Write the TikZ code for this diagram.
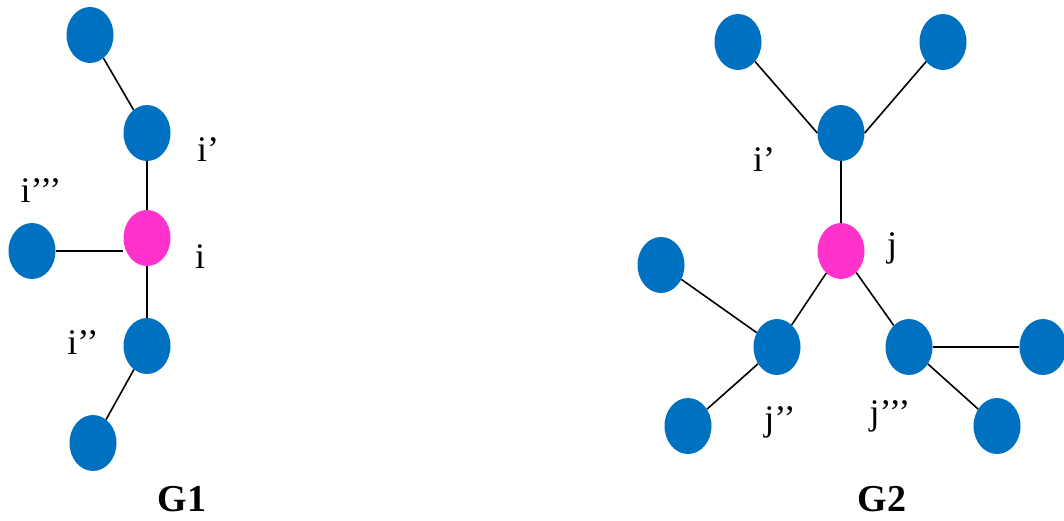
\documentclass[tikz,border=0pt]{standalone}
\usepackage{fontspec}
\setmainfont{Liberation Serif}
\usepackage{xcolor}
\usepackage{tikz}
\usetikzlibrary{positioning,shapes.geometric}

\definecolor{vblue}{HTML}{0070C0}
\definecolor{vpink}{HTML}{FF33CC}

\tikzset{
    vert/.style={ellipse, fill=vblue, minimum width=47pt, minimum height=56pt, inner sep=0pt},
    root/.style={vert, fill=vpink},
    lbl/.style={font=\fontsize{36}{40}\selectfont, inner sep=0pt},
    gname/.style={font=\fontsize{38}{42}\selectfont\bfseries, inner sep=0pt},
    edge/.style={line width=1.6pt}
}

\begin{document}
\begin{tikzpicture}[x=1pt, y=-1pt]
    \useasboundingbox (0,0) rectangle (1064,521);

    % graph G1
    \node[vert] (a1) at (90,35) {};
    \node[vert] (ip) at (147,133) {};
    \node[root] (i) at (147,238) {};
    \node[vert] (a3) at (32,251) {};
    \node[vert] (ipp) at (147,346) {};
    \node[vert] (a2) at (93,443) {};

    \draw[edge] (a1) -- (ip);
    \draw[edge] (ip) -- (i);
    \draw[edge] (a3) -- (a3 -| i.west);
    \draw[edge] (i) -- (ipp);
    \draw[edge] (ipp) -- (a2);

    \node[lbl] (l-ip) at (208,150) {i’};
    \node[lbl] (l-ippp) at (41,191) {i’’’};
    \node[lbl] (l-i) at (200,257) {i};
    \node[lbl] (l-ipp) at (83,343) {i’’};
    \node[gname] (g1) at (182,499) {G1};

    % graph G2
    \node[vert] (b1) at (738,42) {};
    \node[vert] (b2) at (943,42) {};
    \node[vert] (jp) at (841,133) {};
    \node[root] (j) at (841,251) {};
    \node[vert] (b3) at (661,265) {};
    \node[vert] (jpp) at (777,347) {};
    \node[vert] (jppp) at (909,347) {};
    \node[vert] (b4) at (1043,347) {};
    \node[vert] (b5) at (688,426) {};
    \node[vert] (b6) at (997,426) {};

    \draw[edge] (b1) -- (jp.west);
    \draw[edge] (b2) -- (jp.east);
    \draw[edge] (jp) -- (j);
    \draw[edge] (j) -- (jpp);
    \draw[edge] (j) -- (jppp);
    \draw[edge] (b3) -- (jpp);
    \draw[edge] (jpp) -- (b5);
    \draw[edge] (jppp) -- (b4);
    \draw[edge] (jppp) -- (b6);

    \node[lbl] (l-jp) at (764,160) {i’};
    \node[lbl] (l-j) at (892,248) {j};
    \node[lbl] (l-jpp) at (780,422) {j’’};
    \node[lbl] (l-jppp) at (890,416) {j’’’};
    \node[gname] (g2) at (882,499) {G2};
\end{tikzpicture}
\end{document}
